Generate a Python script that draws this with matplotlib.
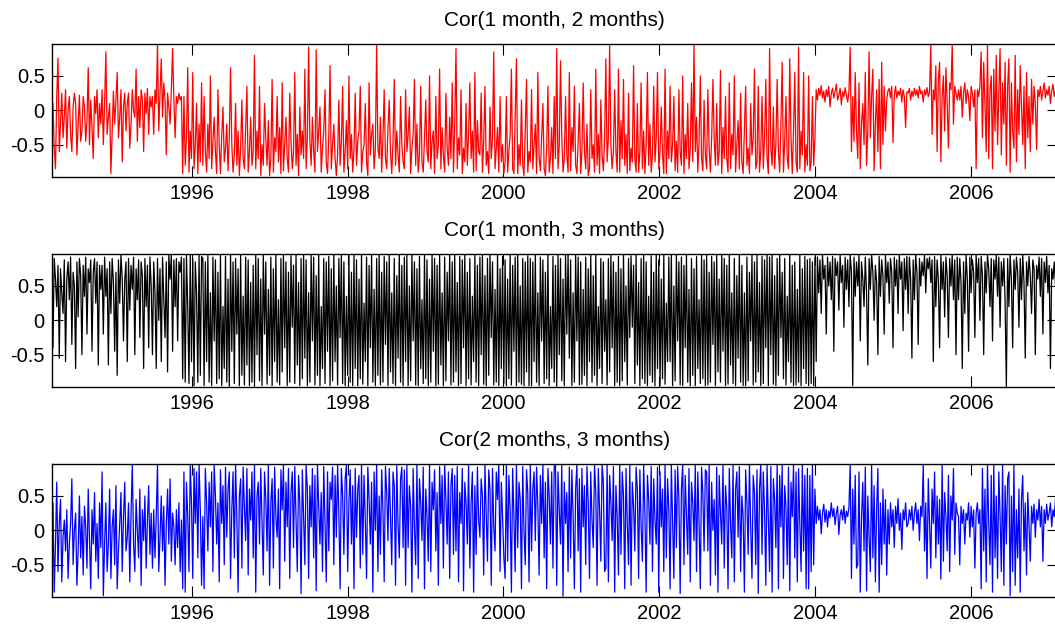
import numpy as np
import pandas as pd
import matplotlib
matplotlib.use("Agg")
import matplotlib.pyplot as plt
import matplotlib.dates as mdates

plt.rcParams['font.family'] = ['Liberation Sans', 'DejaVu Sans']

start_date = "1994-03-15"
end_date = "2007-02-13"

titles = ["Cor(1 month, 2 months)", "Cor(1 month, 3 months)", "Cor(2 months, 3 months)"]
colors = ["#ff0000", "#000000", "#0000ff"]
y_ticks = [-0.5, 0, 0.5]
y_tick_labels = ['-0.5', '0', '0.5']

cor_1m_2m = [
    -0.30, 0.10, -0.55, -0.85, 0.20, 0.76, -0.60, -0.20, 0.25, -0.40,
    -0.10, 0.30, -0.55, 0.00, 0.20, -0.35, -0.60, 0.05, 0.25, 0.10,
    -0.65, -0.20, 0.22, -0.45, -0.30, 0.20, 0.05, -0.45, -0.15, 0.62,
    -0.50, 0.15, -0.25, -0.70, 0.20, -0.05, 0.30, -0.40, 0.10, -0.20,
    0.30, -0.50, 0.10, 0.85, -0.35, -0.10, 0.10, -0.92, -0.30, 0.28,
    -0.20, 0.15, 0.55, -0.40, -0.10, 0.30, -0.75, 0.05, 0.25, -0.30,
    0.10, 0.25, -0.55, -0.20, 0.30, 0.00, -0.10, 0.60, -0.45, 0.20,
    -0.25, 0.30, 0.15, -0.60, 0.25, -0.05, 0.32, -0.35, 0.20, 0.05,
    0.20, -0.35, 0.30, 0.10, 0.96, -0.30, 0.25, 0.75, -0.10, 0.40,
    0.15, -0.65, 0.25, 0.05, -0.20, 0.30, 0.90, 0.15, -0.40, 0.20,
    0.10, 0.25, 0.15, 0.20, -0.92, 0.20, -0.80, -0.40, 0.62, -0.90,
    -0.30, -0.70, 0.55, -0.85, -0.50, 0.10, -0.92, -0.20, -0.75, 0.40,
    -0.80, 0.20, -0.60, -0.90, -0.20, -0.70, 0.50, -0.85, -0.45, -0.10,
    -0.60, -0.92, 0.30, -0.50, -0.92, -0.35, 0.05, -0.75, -0.55, -0.20,
    -0.88, -0.40, 0.62, -0.50, -0.90, -0.65, 0.10, -0.80, -0.30, -0.95,
    -0.55, 0.15, -0.70, -0.85, -0.25, 0.35, -0.90, -0.60, -0.10, -0.80,
    -0.60, 0.80, -0.85, -0.30, -0.70, 0.35, -0.95, -0.50, -0.80, 0.10,
    -0.40, -0.80, -0.15, -0.95, -0.70, 0.45, -0.90, -0.40, -0.60, 0.20,
    -0.75, -0.25, -0.92, 0.40, -0.88, -0.50, -0.10, -0.70, -0.90, 0.25,
    -0.45, -0.85, -0.60, 0.55, -0.80, -0.35, -0.95, 0.05, -0.65, -0.30,
    -0.70, 0.60, -0.85, -0.40, 0.92, -0.45, -0.80, -0.10, -0.60, -0.90,
    0.88, -0.60, -0.30, 0.05, -0.90, -0.55, -0.30, 0.30, -0.75, -0.92,
    -0.40, 0.65, -0.85, -0.50, -0.20, -0.70, -0.95, -0.65, 0.15, -0.80,
    -0.45, 0.35, -0.90, -0.60, -0.15, -0.85, 0.50, -0.70, -0.35, -0.90,
    -0.60, 0.25, -0.80, -0.45, -0.30, 0.35, -0.90, -0.60, -0.50, 0.10,
    -0.75, -0.95, 0.40, -0.65, -0.35, -0.20, -0.85, -0.55, 0.96, -0.55,
    -0.70, -0.10, -0.90, -0.40, 0.30, -0.70, -0.85, -0.25, 0.15, -0.60,
    -0.92, -0.45, 0.45, -0.80, -0.30, -0.65, -0.90, 0.20, -0.50, -0.75,
    -0.85, 0.30, -0.60, -0.35, 0.05, -0.92, -0.55, -0.35, 0.45, -0.80,
    -0.20, -0.90, -0.65, 0.35, -0.75, -0.90, -0.40, 0.15, -0.60, -0.75,
    0.50, -0.85, -0.45, -0.30, -0.92, 0.20, -0.70, -0.50, 0.60, -0.85,
    -0.25, -0.65, -0.90, 0.25, -0.55, -0.80, -0.10, -0.70, 0.40, -0.90,
    -0.20, 0.90, -0.85, -0.40, -0.65, 0.30, -0.92, -0.55, -0.75, 0.10,
    -0.80, -0.35, 0.40, -0.70, -0.30, -0.90, 0.55, -0.88, -0.15, -0.60,
    -0.65, 0.25, -0.90, -0.45, 0.35, -0.80, -0.60, -0.92, 0.05, -0.70,
    -0.40, 0.85, -0.85, -0.55, -0.25, -0.90, 0.20, -0.75, -0.50, -0.92,
    -0.75, 0.20, -0.90, -0.60, -0.35, 0.60, -0.85, -0.92, -0.10, 0.75,
    -0.92, -0.50, -0.80, 0.15, -0.80, -0.95, -0.30, 0.45, -0.90, -0.60,
    -0.75, 0.30, -0.85, -0.50, -0.20, -0.92, 0.55, -0.70, -0.88, -0.40,
    0.10, -0.85, -0.95, -0.55, 0.35, -0.90, -0.70, -0.25, -0.92, 0.20,
    -0.70, 0.90, -0.85, -0.50, 0.72, -0.40, -0.90, -0.70, 0.20, -0.65,
    -0.90, 0.55, -0.88, -0.25, -0.60, 0.35, -0.80, -0.92, -0.45, 0.10,
    -0.92, -0.60, 0.40, -0.60, -0.85, -0.20, -0.95, -0.85, 0.30, -0.70,
    -0.50, -0.90, 0.60, -0.80, -0.35, -0.92, 0.15, -0.65, -0.88, -0.40,
    0.75, -0.75, -0.40, 0.94, -0.50, -0.85, -0.60, 0.30, -0.60, -0.90,
    0.60, -0.90, -0.15, -0.70, 0.45, -0.80, -0.35, -0.92, 0.25, -0.88,
    -0.55, -0.75, 0.65, -0.70, -0.90, 0.10, -0.90, -0.60, 0.40, -0.85,
    -0.30, -0.92, -0.50, 0.55, -0.80, -0.20, -0.90, -0.65, 0.35, -0.75,
    -0.40, 0.55, -0.85, -0.60, 0.05, -0.65, -0.92, 0.60, -0.92, -0.30,
    -0.70, 0.35, -0.75, -0.50, 0.20, -0.88, -0.45, -0.90, 0.30, -0.60,
    -0.80, 0.50, -0.92, -0.35, -0.70, 0.10, -0.85, -0.55, 0.40, -0.75,
    0.96, -0.60, -0.10, -0.90, -0.45, 0.50, -0.70, -0.88, 0.15, -0.65,
    -0.85, 0.30, -0.55, -0.90, -0.40, 0.45, -0.40, -0.80, 0.10, -0.80,
    -0.60, 0.58, -0.92, -0.25, -0.70, 0.20, -0.70, -0.90, 0.40, -0.85,
    -0.35, -0.65, 0.50, -0.90, -0.50, -0.15, -0.85, 0.25, -0.75, -0.92,
    -0.30, 0.35, -0.80, -0.55, -0.92, 0.10, -0.65, -0.40, 0.60, -0.85,
    -0.75, 0.35, -0.90, -0.60, 0.20, -0.85, -0.40, 0.45, -0.70, -0.92,
    0.90, -0.55, -0.80, 0.05, -0.85, -0.50, 0.45, -0.60, -0.90, -0.20,
    0.70, -0.90, -0.45, 0.20, -0.70, -0.85, 0.75, -0.40, -0.92, -0.30,
    0.55, -0.75, -0.90, 0.92, -0.85, -0.30, -0.65, 0.55, -0.90, -0.50,
    -0.80, 0.50, -0.88, -0.75, 0.20, -0.80, -0.40, 0.30, 0.15, 0.32,
    0.22, 0.36, 0.18, 0.28, 0.12, 0.30, 0.20, 0.35, 0.05, 0.25,
    0.32, 0.18, 0.27, 0.38, 0.15, 0.22, 0.32, 0.08, 0.27, 0.20,
    0.33, 0.22, 0.12, 0.27, 0.92, -0.60, 0.20, -0.45, 0.55, -0.30,
    -0.70, 0.40, -0.85, -0.20, 0.10, -0.50, 0.55, -0.80, -0.30, 0.85,
    -0.40, 0.20, 0.60, -0.88, -0.20, 0.30, -0.60, 0.45, -0.85, 0.70,
    -0.50, 0.35, -0.30, 0.15, 0.28, 0.32, 0.18, 0.35, -0.47, 0.22,
    0.35, 0.18, 0.28, 0.22, 0.32, 0.12, 0.30, 0.20, -0.25, 0.27,
    0.25, 0.32, 0.15, 0.28, 0.20, 0.32, 0.22, 0.30, 0.18, 0.35,
    0.24, 0.28, 0.12, 0.30, 0.22, 0.33, 0.20, 0.27, 0.96, -0.35,
    0.30, 0.15, 0.65, -0.60, 0.45, 0.70, -0.75, 0.20, 0.50, -0.30,
    0.62, 0.10, -0.55, 0.40, 0.30, 0.96, -0.20, 0.35, 0.25, 0.15,
    0.30, 0.15, 0.35, -0.10, 0.25, 0.40, 0.10, 0.30, 0.20, -0.15,
    0.35, 0.25, 0.05, 0.30, -0.85, 0.30, 0.20, 0.35, 0.85, -0.40,
    0.70, 0.10, -0.60, 0.96, -0.70, 0.30, 0.50, -0.85, 0.60, -0.30,
    0.80, -0.50, 0.25, 0.90, -0.65, 0.40, -0.20, 0.70, -0.80, 0.35,
    0.75, -0.90, 0.40, -0.30, -0.55, 0.80, -0.75, 0.30, -0.35, 0.65,
    0.05, -0.50, 0.35, -0.85, 0.55, -0.40, 0.20, -0.60, 0.45, -0.20,
    0.35, 0.10, -0.57, 0.30, 0.20, 0.35, 0.15, 0.28, 0.40, 0.18,
    0.30, 0.22, 0.35, 0.10, 0.28, 0.38, 0.20, 0.30, 0.15, 0.32,
]

cor_1m_3m = [
    0.85, -0.40, 0.90, 0.60, 0.20, 0.80, -0.55, 0.75, 0.40, 0.10,
    0.88, -0.60, 0.60, 0.85, 0.30, 0.92, -0.35, 0.70, 0.50, -0.70,
    0.85, 0.05, 0.90, 0.65, -0.50, 0.80, 0.35, 0.92, -0.20, 0.75,
    0.55, 0.88, -0.45, 0.70, 0.90, 0.25, 0.85, -0.65, 0.80, 0.45,
    0.80, -0.20, 0.92, 0.35, 0.75, -0.65, 0.85, 0.10, 0.90, 0.55,
    -0.45, 0.70, -0.80, 0.88, 0.25, 0.95, 0.60, -0.30, 0.60, 0.85,
    -0.60, 0.90, 0.15, 0.80, 0.45, 0.92, -0.50, 0.75, 0.30, 0.88,
    -0.25, 0.85, 0.65, -0.70, 0.90, 0.20, 0.80, -0.40, 0.92, 0.50,
    -0.50, 0.85, 0.40, -0.70, 0.90, 0.00, 0.75, -0.60, 0.92, 0.30,
    -0.25, 0.85, -0.75, 0.95, 0.60, 0.96, -0.45, 0.88, 0.20, 0.90,
    -0.30, 0.85, 0.70, 0.92, -0.85, 0.90, -0.90, 0.95, 0.20, -0.92,
    0.96, -0.60, 0.90, -0.95, 0.85, 0.40, -0.90, 0.95, -0.80, 0.93,
    0.90, -0.95, 0.85, -0.60, 0.95, -0.90, 0.40, -0.95, 0.92, -0.30,
    0.88, -0.92, 0.70, -0.85, 0.96, -0.95, 0.20, -0.70, 0.93, -0.90,
    0.60, -0.96, 0.95, -0.45, 0.85, -0.92, 0.90, -0.20, 0.75, -0.95,
    0.96, -0.80, 0.35, -0.94, 0.92, -0.65, 0.88, -0.95, 0.55, -0.90,
    0.80, -0.96, 0.95, -0.50, 0.90, -0.88, 0.60, -0.95, 0.96, -0.20,
    0.85, -0.93, 0.45, -0.80, 0.92, -0.95, 0.75, -0.60, 0.95, -0.90,
    0.30, -0.94, 0.90, -0.75, 0.96, -0.40, 0.85, -0.95, 0.70, -0.90,
    0.94, -0.10, 0.80, -0.92, 0.95, -0.65, 0.55, -0.95, 0.90, -0.85,
    0.95, -0.55, 0.88, -0.95, 0.40, -0.90, 0.96, -0.30, 0.92, -0.94,
    0.65, -0.80, 0.95, -0.95, 0.20, -0.70, 0.90, -0.92, 0.85, -0.45,
    0.93, -0.95, 0.75, -0.88, 0.96, -0.60, 0.50, -0.94, 0.90, -0.25,
    0.95, -0.92, 0.85, -0.95, 0.35, -0.80, 0.94, -0.90, 0.70, -0.95,
    0.95, -0.70, 0.88, -0.95, 0.60, -0.85, 0.96, -0.93, 0.25, -0.60,
    0.92, -0.95, 0.80, -0.40, 0.95, -0.90, 0.45, -0.95, 0.90, -0.80,
    0.96, -0.94, 0.70, -0.90, 0.93, -0.35, 0.85, -0.95, 0.95, -0.75,
    0.40, -0.92, 0.90, -0.95, 0.65, -0.55, 0.96, -0.90, 0.80, -0.95,
    0.92, -0.60, 0.95, -0.95, 0.50, -0.88, 0.96, -0.30, 0.85, -0.94,
    0.75, -0.95, 0.93, -0.70, 0.30, -0.92, 0.95, -0.85, 0.88, -0.95,
    0.60, -0.90, 0.96, -0.45, 0.90, -0.95, 0.80, -0.93, 0.95, -0.65,
    0.40, -0.95, 0.92, -0.88, 0.70, -0.30, 0.95, -0.94, 0.85, -0.90,
    0.95, -0.75, 0.55, -0.95, 0.93, -0.92, 0.88, -0.40, 0.96, -0.95,
    0.70, -0.85, 0.90, -0.94, 0.35, -0.60, 0.95, -0.90, 0.80, -0.95,
    0.92, -0.50, 0.95, -0.93, 0.65, -0.95, 0.90, -0.80, 0.96, -0.25,
    0.85, -0.94, 0.45, -0.90, 0.95, -0.95, 0.75, -0.70, 0.93, -0.92,
    0.88, -0.95, 0.60, -0.85, 0.95, -0.94, 0.80, -0.45, 0.92, -0.95,
    0.96, -0.90, 0.50, -0.93, 0.90, -0.95, 0.85, -0.75, 0.94, -0.95,
    0.90, -0.95, 0.85, -0.60, 0.95, -0.90, 0.40, -0.95, 0.92, -0.30,
    0.88, -0.92, 0.70, -0.85, 0.96, -0.95, 0.20, -0.70, 0.93, -0.90,
    0.80, -0.96, 0.95, -0.50, 0.90, -0.88, 0.60, -0.95, 0.96, -0.20,
    0.95, -0.55, 0.88, -0.95, 0.40, -0.90, 0.96, -0.30, 0.92, -0.94,
    0.85, -0.93, 0.45, -0.80, 0.92, -0.95, 0.75, -0.60, 0.95, -0.90,
    0.65, -0.80, 0.95, -0.95, 0.20, -0.70, 0.90, -0.92, 0.85, -0.45,
    0.30, -0.94, 0.90, -0.75, 0.96, -0.40, 0.85, -0.95, 0.70, -0.90,
    0.93, -0.95, 0.75, -0.88, 0.96, -0.60, 0.50, -0.94, 0.90, -0.25,
    0.94, -0.10, 0.80, -0.92, 0.95, -0.65, 0.55, -0.95, 0.90, -0.85,
    0.95, -0.92, 0.85, -0.95, 0.35, -0.80, 0.94, -0.90, 0.70, -0.95,
    0.95, -0.70, 0.88, -0.95, 0.60, -0.85, 0.96, -0.93, 0.25, -0.60,
    0.92, -0.60, 0.95, -0.95, 0.50, -0.88, 0.96, -0.30, 0.85, -0.94,
    0.92, -0.95, 0.80, -0.40, 0.95, -0.90, 0.45, -0.95, 0.90, -0.80,
    0.75, -0.95, 0.93, -0.70, 0.30, -0.92, 0.95, -0.85, 0.88, -0.95,
    0.96, -0.94, 0.70, -0.90, 0.93, -0.35, 0.85, -0.95, 0.95, -0.75,
    0.60, -0.90, 0.96, -0.45, 0.90, -0.95, 0.80, -0.93, 0.95, -0.65,
    0.40, -0.92, 0.90, -0.95, 0.65, -0.55, 0.96, -0.90, 0.80, -0.95,
    0.40, -0.95, 0.92, -0.88, 0.70, -0.30, 0.95, -0.94, 0.85, -0.90,
    0.95, -0.75, 0.55, -0.95, 0.93, -0.92, 0.88, -0.40, 0.96, -0.95,
    0.92, -0.50, 0.95, -0.93, 0.65, -0.95, 0.90, -0.80, 0.96, -0.25,
    0.70, -0.85, 0.90, -0.94, 0.35, -0.60, 0.95, -0.90, 0.80, -0.95,
    0.85, -0.94, 0.45, -0.90, 0.95, -0.95, 0.75, -0.70, 0.93, -0.92,
    0.88, -0.95, 0.90, -0.92, 0.85, -0.95, 0.92, -0.60, 0.92, 0.40,
    0.88, 0.10, 0.95, 0.60, 0.80, -0.20, 0.92, 0.50, 0.85, 0.30,
    0.93, -0.45, 0.90, 0.65, 0.85, 0.15, 0.95, 0.55, 0.80, -0.10,
    0.92, 0.45, 0.88, 0.20, 0.95, 0.70, -0.95, 0.92, 0.35, 0.85,
    0.50, 0.95, -0.30, 0.85, 0.60, 0.20, 0.92, 0.40, -0.65, 0.90,
    0.45, 0.96, 0.70, 0.00, 0.80, 0.55, -0.50, 0.93, 0.35, 0.88,
    0.65, -0.20, 0.95, 0.55, 0.85, 0.25, 0.90, 0.70, -0.40, 0.92,
    0.50, 0.88, 0.10, 0.95, 0.60, 0.85, -0.15, 0.90, 0.45, 0.93,
    0.10, 0.92, 0.60, -0.55, 0.88, 0.30, 0.95, 0.70, -0.35, 0.90,
    0.50, 0.85, 0.65, 0.95, 0.40, 0.90, 0.75, 0.92, 0.55, 0.88,
    -0.60, 0.93, 0.20, 0.88, 0.60, -0.40, 0.95, 0.45, 0.85, 0.05,
    0.92, 0.65, -0.25, 0.90, 0.50, 0.95, 0.30, 0.88, -0.50, 0.92,
    0.30, 0.90, 0.55, -0.70, 0.85, 0.10, 0.95, 0.60, -0.45, 0.92,
    0.40, 0.88, 0.70, -0.25, 0.95, 0.55, 0.90, 0.00, 0.93, 0.65,
    -0.50, 0.85, 0.40, 0.95, 0.75, 0.20, 0.90, -0.30, 0.88, 0.60,
    0.95, 0.35, 0.92, -0.10, 0.85, 0.50, 0.90, 0.25, -0.97, 0.90,
    0.20, 0.95, 0.60, -0.40, 0.88, 0.45, 0.92, 0.70, -0.10, 0.90,
    0.30, 0.95, 0.55, -0.55, 0.85, 0.50, 0.93, 0.65, 0.10, 0.88,
    0.75, -0.50, 0.80, 0.60, 0.92, 0.35, 0.90, -0.20, 0.85, 0.55,
    0.93, 0.40, 0.80, -0.70, 0.75, 0.60, 0.85, 0.50, 0.70, 0.80,
]

cor_2m_3m = [
    -0.30, 0.40, -0.90, -0.20, 0.70, -0.60, 0.10, 0.45, -0.75, -0.10,
    0.15, -0.30, 0.30, -0.70, -0.20, 0.10, 0.75, -0.50, 0.00, 0.25,
    -0.80, -0.30, 0.50, -0.40, 0.20, -0.65, 0.35, 0.05, -0.55, 0.60,
    -0.15, -0.85, 0.30, -0.20, 0.55, -0.45, 0.10, -0.70, 0.40, -0.25,
    0.85, -0.95, -0.20, 0.40, -0.60, -0.20, 0.60, -0.70, 0.05, 0.30,
    -0.50, 0.65, -0.85, -0.30, 0.10, 0.55, -0.60, 0.20, 0.70, -0.30,
    -0.10, 0.40, -0.75, 0.25, 0.95, -0.20, -0.60, 0.45, 0.00, -0.40,
    0.60, -0.80, 0.30, -0.15, 0.50, -0.55, 0.15, 0.65, -0.35, 0.25,
    -0.55, 0.30, -0.40, 0.20, 0.96, -0.60, -0.10, 0.50, -0.30, 0.35,
    -0.80, 0.10, 0.60, -0.20, 0.75, -0.45, 0.25, 0.05, -0.50, 0.30,
    -0.25, 0.40, -0.60, 0.15, -0.85, 0.85, -0.90, 0.70, 0.20, -0.60,
    0.95, 0.40, -0.70, 0.90, 0.10, 0.85, -0.40, 0.96, 0.30, -0.80,
    0.20, -0.85, 0.90, 0.40, -0.30, 0.70, 0.05, 0.85, -0.60, 0.95,
    0.50, -0.20, 0.40, -0.75, 0.88, 0.10, 0.65, -0.50, 0.92, -0.10,
    0.60, 0.85, -0.70, 0.30, 0.85, -0.40, 0.96, 0.20, -0.90, 0.50,
    0.75, -0.55, 0.92, 0.35, -0.15, 0.90, -0.65, 0.60, 0.15, 0.85,
    -0.40, 0.96, -0.90, 0.50, 0.70, -0.20, 0.90, 0.10, -0.65, 0.85,
    0.45, -0.30, 0.95, -0.80, 0.40, 0.75, -0.55, 0.92, 0.20, -0.10,
    0.60, -0.85, 0.88, 0.30, 0.96, -0.45, 0.70, 0.05, 0.90, -0.70,
    0.55, 0.85, -0.25, 0.93, 0.15, -0.60, 0.80, 0.40, -0.92, 0.88,
    0.20, -0.50, 0.95, 0.60, -0.70, 0.65, 0.05, 0.90, -0.40, 0.80,
    -0.88, 0.96, 0.35, -0.20, 0.55, -0.60, 0.93, 0.10, -0.75, 0.85,
    -0.30, 0.70, 0.45, 0.92, -0.50, 0.80, -0.10, 0.96, 0.25, -0.85,
    0.90, 0.50, -0.35, 0.75, 0.95, -0.60, 0.40, 0.88, -0.20, 0.65,
    -0.85, 0.90, -0.10, 0.60, 0.80, -0.55, 0.95, -0.35, 0.80, 0.15,
    -0.70, 0.92, 0.45, -0.20, 0.70, -0.90, 0.85, 0.00, 0.96, -0.60,
    0.50, -0.35, 0.88, 0.30, -0.75, 0.93, 0.55, -0.15, 0.90, 0.20,
    -0.50, 0.85, 0.65, -0.80, 0.95, 0.10, -0.40, 0.75, 0.92, -0.25,
    0.88, -0.80, 0.95, -0.25, 0.65, 0.35, -0.90, 0.90, 0.05, -0.50,
    0.96, -0.70, 0.75, 0.40, -0.15, 0.92, -0.85, 0.60, 0.20, -0.45,
    0.95, -0.60, 0.70, 0.30, 0.88, -0.30, 0.55, -0.80, 0.93, 0.10,
    0.80, -0.55, 0.96, 0.45, -0.20, 0.85, -0.70, 0.65, 0.90, -0.35,
    0.80, -0.30, 0.93, -0.75, 0.55, 0.10, 0.90, -0.88, 0.70, 0.40,
    -0.20, 0.96, -0.55, 0.40, 0.85, -0.90, 0.65, -0.35, 0.92, 0.15,
    -0.10, 0.75, 0.50, -0.65, 0.95, 0.25, -0.45, 0.88, 0.60, -0.80,
    0.90, 0.05, -0.30, 0.85, 0.45, 0.96, -0.60, 0.70, 0.20, -0.40,
    -0.70, 0.95, -0.45, 0.80, 0.30, -0.90, 0.90, 0.20, -0.60, 0.96,
    -0.25, 0.70, 0.45, -0.85, 0.93, 0.00, -0.50, 0.88, 0.55, -0.75,
    0.95, -0.30, 0.60, 0.85, -0.15, 0.92, 0.35, -0.65, 0.80, 0.10,
    0.96, -0.40, 0.70, -0.85, 0.90, 0.50, -0.20, 0.85, -0.55, 0.93,
    0.96, -0.80, 0.85, 0.30, -0.20, 0.95, -0.96, 0.70, 0.10, 0.55,
    -0.60, 0.92, -0.40, 0.88, 0.20, -0.85, 0.60, 0.96, -0.30, 0.75,
    -0.90, 0.90, 0.05, 0.65, -0.50, 0.93, 0.40, -0.70, 0.85, 0.15,
    -0.25, 0.95, 0.55, -0.80, 0.90, 0.30, -0.45, 0.96, 0.70, -0.60,
    -0.55, 0.95, -0.75, 0.80, 0.40, -0.15, 0.93, -0.90, 0.65, 0.20,
    -0.65, 0.96, -0.35, 0.85, 0.50, -0.85, 0.90, 0.10, -0.50, 0.95,
    -0.80, 0.70, 0.35, -0.30, 0.92, 0.60, -0.70, 0.88, 0.05, -0.45,
    0.96, 0.25, -0.90, 0.80, 0.45, -0.20, 0.93, -0.60, 0.75, 0.15,
    -0.20, 0.92, -0.90, 0.85, 0.05, 0.60, -0.60, 0.96, -0.40, 0.75,
    0.30, -0.85, 0.95, 0.15, -0.70, 0.88, -0.25, 0.93, 0.45, -0.92,
    0.60, 0.96, -0.50, 0.80, 0.20, -0.35, 0.90, -0.75, 0.70, 0.40,
    -0.15, 0.95, -0.60, 0.85, 0.10, -0.85, 0.92, 0.55, -0.30, 0.88,
    0.85, -0.30, 0.95, -0.80, 0.70, 0.00, 0.45, -0.65, 0.92, -0.90,
    0.80, 0.25, -0.20, 0.96, -0.55, 0.65, 0.35, -0.85, 0.90, 0.10,
    -0.40, 0.95, -0.75, 0.60, 0.85, -0.10, 0.93, -0.60, 0.50, 0.20,
    -0.90, 0.88, 0.40, -0.35, 0.96, 0.05, -0.70, 0.80, 0.55, -0.50,
    0.88, -0.92, 0.60, 0.96, -0.35, 0.85, 0.30, -0.80, 0.95, 0.15,
    -0.60, 0.93, -0.90, 0.75, 0.45, -0.25, 0.96, -0.85, 0.80, 0.05,
    0.95, -0.70, 0.65, 0.35, -0.50, 0.92, -0.88, 0.70, 0.20, 0.96,
    -0.40, 0.85, -0.75, 0.90, 0.10, -0.60, 0.95, -0.30, 0.80, -0.85,
    0.90, -0.85, 0.80, -0.60, 0.95, -0.50, 0.60, 0.10, 0.35, 0.15,
    0.30, -0.05, 0.25, 0.38, 0.12, 0.30, 0.05, 0.28, 0.18, 0.40,
    0.20, 0.32, 0.08, 0.25, 0.35, -0.06, 0.22, 0.30, 0.15, 0.36,
    0.10, 0.28, 0.20, 0.33, 0.96, -0.70, 0.60, -0.20, 0.80, -0.55,
    -0.50, 0.85, -0.90, 0.20, 0.70, -0.30, 0.92, -0.88, 0.50, -0.10,
    -0.60, 0.96, -0.40, 0.65, -0.75, 0.30, 0.90, -0.90, 0.40, -0.50,
    0.60, -0.20, 0.45, -0.65, 0.30, -0.20, 0.40, 0.05, 0.30, -0.25,
    0.35, 0.10, 0.46, 0.00, 0.25, -0.28, 0.30, 0.15, 0.40, 0.05,
    0.10, 0.30, 0.15, 0.35, 0.00, 0.25, 0.40, 0.10, 0.30, -0.15,
    0.35, 0.20, 0.96, -0.30, 0.40, -0.70, 0.75, 0.10, -0.55, 0.60,
    0.10, 0.85, -0.40, 0.50, -0.20, 0.45, -0.71, 0.96, -0.45, 0.55,
    0.20, -0.30, 0.80, -0.60, 0.50, 0.15, 0.90, -0.35, 0.40, 0.25,
    0.20, -0.50, 0.35, 0.10, 0.30, -0.20, 0.25, 0.15, 0.40, -0.10,
    0.35, 0.05, 0.30, -0.55, 0.25, 0.40, 0.10, 0.30, -0.85, 0.90,
    -0.30, 0.60, -0.75, 0.96, 0.10, -0.50, 0.80, -0.90, 0.96, -0.40,
    0.50, -0.70, 0.85, 0.20, -0.60, 0.96, -0.80, 0.65, -0.20, 0.75,
    0.85, -0.95, 0.50, -0.60, 0.96, -0.80, 0.30, -0.40, 0.60, -0.90,
    0.45, 0.80, -0.30, 0.40, -0.65, 0.55, 0.05, -0.45, 0.35, 0.10,
    0.38, -0.10, 0.30, 0.15, 0.45, 0.05, 0.35, -0.45, 0.30, 0.10,
    0.38, 0.15, 0.25, 0.40, 0.05, 0.30, 0.20, 0.45, 0.10, 0.28,
]

series = [cor_1m_2m, cor_1m_3m, cor_2m_3m]

# ---- figure ----
W, H = 1055, 630
fig = plt.figure(figsize=(W / 100, H / 100), dpi=100)

left_px, right_px = 51.7, 1058.0
panel_tops = [44, 254, 464]
panel_h = 133

x0 = pd.Timestamp(start_date)
x1 = pd.Timestamp(end_date)

for vals, top, title, color in zip(series, panel_tops, titles, colors):
    ax = fig.add_axes([left_px / W, 1 - (top + panel_h) / H,
                       (right_px - left_px) / W, panel_h / H])
    dates = pd.date_range(x0, x1, periods=len(vals))
    ax.plot(dates, vals, color=color, lw=0.9)
    ax.set_xlim(x0, x1)
    ax.set_ylim(-0.97, 0.965)
    ax.xaxis.set_major_locator(mdates.YearLocator(2))
    ax.xaxis.set_major_formatter(mdates.DateFormatter('%Y'))
    ax.set_yticks(y_ticks)
    ax.set_yticklabels(y_tick_labels)
    ax.tick_params(direction='in', length=8, width=0.8, top=True, right=True,
                   labelsize=14.5, pad=5, colors='black')
    for s in ax.spines.values():
        s.set_linewidth(1.0)
        s.set_color('black')
    ax.set_title(title, fontsize=15, pad=13)

fig.savefig("out.png", dpi=100)
